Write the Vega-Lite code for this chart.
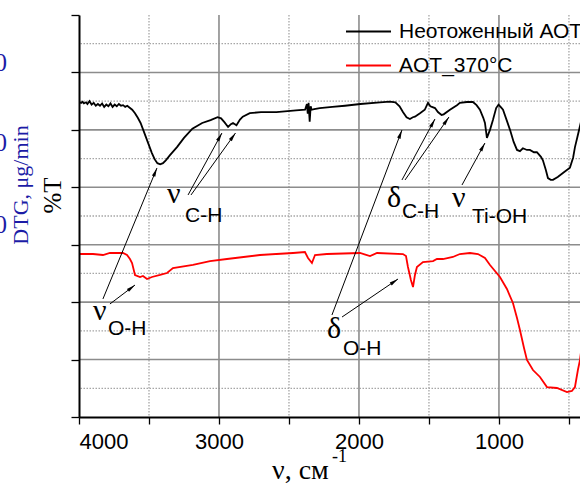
{
  "$schema": "https://vega.github.io/schema/vega-lite/v6.json",
  "width": 501,
  "height": 402,
  "autosize": {"type": "none"},
  "padding": {"left": 79, "top": 15, "right": 0, "bottom": 66},
  "background": "white",
  "config": {"view": {"stroke": null}, "font": "Liberation Sans"},
  "datasets": {
    "xmajor": [{"wn": 3000}, {"wn": 2000}, {"wn": 1000}],
    "xminor": [{"wn": 3500}, {"wn": 2500}, {"wn": 1500}, {"wn": 500}],
    "ymajor": [{"T": 10}, {"T": 20}, {"T": 30}, {"T": 40}, {"T": 50}, {"T": 60}],
    "yminor": [{"T": 5}, {"T": 15}, {"T": 25}, {"T": 35}, {"T": 45}, {"T": 55}, {"T": 65}],
    "spectra": [
      {"series": "Неотоженный АОТ", "wn": 4000, "T": 54.85},
      {"series": "Неотоженный АОТ", "wn": 3985, "T": 54.7},
      {"series": "Неотоженный АОТ", "wn": 3975, "T": 54.9},
      {"series": "Неотоженный АОТ", "wn": 3965, "T": 54.6},
      {"series": "Неотоженный АОТ", "wn": 3950, "T": 54.8},
      {"series": "Неотоженный АОТ", "wn": 3940, "T": 54.5},
      {"series": "Неотоженный АОТ", "wn": 3925, "T": 55.0},
      {"series": "Неотоженный АОТ", "wn": 3910, "T": 54.4},
      {"series": "Неотоженный АОТ", "wn": 3895, "T": 54.7},
      {"series": "Неотоженный АОТ", "wn": 3880, "T": 54.2},
      {"series": "Неотоженный АОТ", "wn": 3865, "T": 54.5},
      {"series": "Неотоженный АОТ", "wn": 3850, "T": 54.2},
      {"series": "Неотоженный АОТ", "wn": 3835, "T": 54.6},
      {"series": "Неотоженный АОТ", "wn": 3820, "T": 54.0},
      {"series": "Неотоженный АОТ", "wn": 3805, "T": 54.4},
      {"series": "Неотоженный АОТ", "wn": 3790, "T": 54.1},
      {"series": "Неотоженный АОТ", "wn": 3775, "T": 54.6},
      {"series": "Неотоженный АОТ", "wn": 3760, "T": 54.0},
      {"series": "Неотоженный АОТ", "wn": 3745, "T": 54.4},
      {"series": "Неотоженный АОТ", "wn": 3730, "T": 54.1},
      {"series": "Неотоженный АОТ", "wn": 3715, "T": 54.5},
      {"series": "Неотоженный АОТ", "wn": 3700, "T": 54.2},
      {"series": "Неотоженный АОТ", "wn": 3685, "T": 54.3},
      {"series": "Неотоженный АОТ", "wn": 3670, "T": 54.0},
      {"series": "Неотоженный АОТ", "wn": 3655, "T": 54.2},
      {"series": "Неотоженный АОТ", "wn": 3640, "T": 53.9},
      {"series": "Неотоженный АОТ", "wn": 3620, "T": 53.5},
      {"series": "Неотоженный АОТ", "wn": 3600, "T": 52.9},
      {"series": "Неотоженный АОТ", "wn": 3580, "T": 52.1},
      {"series": "Неотоженный АОТ", "wn": 3560, "T": 51.2},
      {"series": "Неотоженный АОТ", "wn": 3540, "T": 49.9},
      {"series": "Неотоженный АОТ", "wn": 3520, "T": 48.6},
      {"series": "Неотоженный АОТ", "wn": 3500, "T": 47.3},
      {"series": "Неотоженный АОТ", "wn": 3480, "T": 46.0},
      {"series": "Неотоженный АОТ", "wn": 3460, "T": 44.9},
      {"series": "Неотоженный АОТ", "wn": 3440, "T": 44.2},
      {"series": "Неотоженный АОТ", "wn": 3420, "T": 44.0},
      {"series": "Неотоженный АОТ", "wn": 3400, "T": 44.2},
      {"series": "Неотоженный АОТ", "wn": 3380, "T": 44.7},
      {"series": "Неотоженный АОТ", "wn": 3350, "T": 45.6},
      {"series": "Неотоженный АОТ", "wn": 3300, "T": 47.0},
      {"series": "Неотоженный АОТ", "wn": 3250, "T": 48.6},
      {"series": "Неотоженный АОТ", "wn": 3190, "T": 50.2},
      {"series": "Неотоженный АОТ", "wn": 3120, "T": 51.2},
      {"series": "Неотоженный АОТ", "wn": 3060, "T": 51.7},
      {"series": "Неотоженный АОТ", "wn": 3010, "T": 52.2},
      {"series": "Неотоженный АОТ", "wn": 2985, "T": 52.0},
      {"series": "Неотоженный АОТ", "wn": 2960, "T": 51.3},
      {"series": "Неотоженный АОТ", "wn": 2935, "T": 50.5},
      {"series": "Неотоженный АОТ", "wn": 2915, "T": 51.0},
      {"series": "Неотоженный АОТ", "wn": 2900, "T": 51.2},
      {"series": "Неотоженный АОТ", "wn": 2875, "T": 50.8},
      {"series": "Неотоженный АОТ", "wn": 2850, "T": 51.8},
      {"series": "Неотоженный АОТ", "wn": 2830, "T": 52.3},
      {"series": "Неотоженный АОТ", "wn": 2780, "T": 52.9},
      {"series": "Неотоженный АОТ", "wn": 2700, "T": 53.1},
      {"series": "Неотоженный АОТ", "wn": 2590, "T": 53.1},
      {"series": "Неотоженный АОТ", "wn": 2450, "T": 53.4},
      {"series": "Неотоженный АОТ", "wn": 2385, "T": 53.5},
      {"series": "Неотоженный АОТ", "wn": 2372, "T": 54.5},
      {"series": "Неотоженный АОТ", "wn": 2366, "T": 52.8},
      {"series": "Неотоженный АОТ", "wn": 2360, "T": 54.7},
      {"series": "Неотоженный АОТ", "wn": 2352, "T": 51.4},
      {"series": "Неотоженный АОТ", "wn": 2345, "T": 54.1},
      {"series": "Неотоженный АОТ", "wn": 2338, "T": 53.5},
      {"series": "Неотоженный АОТ", "wn": 2320, "T": 53.6},
      {"series": "Неотоженный АОТ", "wn": 2280, "T": 53.8},
      {"series": "Неотоженный АОТ", "wn": 2190, "T": 54.0},
      {"series": "Неотоженный АОТ", "wn": 2100, "T": 54.2},
      {"series": "Неотоженный АОТ", "wn": 1990, "T": 54.5},
      {"series": "Неотоженный АОТ", "wn": 1850, "T": 54.8},
      {"series": "Неотоженный АОТ", "wn": 1780, "T": 54.9},
      {"series": "Неотоженный АОТ", "wn": 1740, "T": 54.8},
      {"series": "Неотоженный АОТ", "wn": 1710, "T": 54.1},
      {"series": "Неотоженный АОТ", "wn": 1686, "T": 53.1},
      {"series": "Неотоженный АОТ", "wn": 1660, "T": 52.2},
      {"series": "Неотоженный АОТ", "wn": 1636, "T": 51.9},
      {"series": "Неотоженный АОТ", "wn": 1615, "T": 52.2},
      {"series": "Неотоженный АОТ", "wn": 1600, "T": 52.3},
      {"series": "Неотоженный АОТ", "wn": 1564, "T": 52.9},
      {"series": "Неотоженный АОТ", "wn": 1530, "T": 53.5},
      {"series": "Неотоженный АОТ", "wn": 1507, "T": 54.7},
      {"series": "Неотоженный АОТ", "wn": 1490, "T": 54.1},
      {"series": "Неотоженный АОТ", "wn": 1479, "T": 54.0},
      {"series": "Неотоженный АОТ", "wn": 1457, "T": 53.8},
      {"series": "Неотоженный АОТ", "wn": 1436, "T": 53.1},
      {"series": "Неотоженный АОТ", "wn": 1410, "T": 52.6},
      {"series": "Неотоженный АОТ", "wn": 1395, "T": 52.7},
      {"series": "Неотоженный АОТ", "wn": 1350, "T": 53.5},
      {"series": "Неотоженный АОТ", "wn": 1300, "T": 54.3},
      {"series": "Неотоженный АОТ", "wn": 1279, "T": 54.7},
      {"series": "Неотоженный АОТ", "wn": 1229, "T": 54.85},
      {"series": "Неотоженный АОТ", "wn": 1186, "T": 54.85},
      {"series": "Неотоженный АОТ", "wn": 1160, "T": 54.3},
      {"series": "Неотоженный АОТ", "wn": 1136, "T": 53.5},
      {"series": "Неотоженный АОТ", "wn": 1112, "T": 52.1},
      {"series": "Неотоженный АОТ", "wn": 1100, "T": 51.2},
      {"series": "Неотоженный АОТ", "wn": 1086, "T": 48.6},
      {"series": "Неотоженный АОТ", "wn": 1075, "T": 49.3},
      {"series": "Неотоженный АОТ", "wn": 1064, "T": 50.0},
      {"series": "Неотоженный АОТ", "wn": 1043, "T": 51.7},
      {"series": "Неотоженный АОТ", "wn": 1020, "T": 53.8},
      {"series": "Неотоженный АОТ", "wn": 1003, "T": 54.4},
      {"series": "Неотоженный АОТ", "wn": 985, "T": 53.9},
      {"series": "Неотоженный АОТ", "wn": 971, "T": 53.5},
      {"series": "Неотоженный АОТ", "wn": 945, "T": 51.7},
      {"series": "Неотоженный АОТ", "wn": 921, "T": 50.0},
      {"series": "Неотоженный АОТ", "wn": 895, "T": 47.9},
      {"series": "Неотоженный АОТ", "wn": 871, "T": 46.5},
      {"series": "Неотоженный АОТ", "wn": 850, "T": 46.3},
      {"series": "Неотоженный АОТ", "wn": 829, "T": 46.8},
      {"series": "Неотоженный АОТ", "wn": 800, "T": 46.5},
      {"series": "Неотоженный АОТ", "wn": 779, "T": 46.5},
      {"series": "Неотоженный АОТ", "wn": 750, "T": 46.1},
      {"series": "Неотоженный АОТ", "wn": 729, "T": 46.1},
      {"series": "Неотоженный АОТ", "wn": 700, "T": 45.3},
      {"series": "Неотоженный АОТ", "wn": 686, "T": 44.7},
      {"series": "Неотоженный АОТ", "wn": 665, "T": 43.0},
      {"series": "Неотоженный АОТ", "wn": 650, "T": 41.6},
      {"series": "Неотоженный АОТ", "wn": 630, "T": 41.3},
      {"series": "Неотоженный АОТ", "wn": 614, "T": 41.3},
      {"series": "Неотоженный АОТ", "wn": 580, "T": 41.8},
      {"series": "Неотоженный АОТ", "wn": 543, "T": 42.5},
      {"series": "Неотоженный АОТ", "wn": 493, "T": 43.4},
      {"series": "Неотоженный АОТ", "wn": 470, "T": 45.2},
      {"series": "Неотоженный АОТ", "wn": 457, "T": 47.0},
      {"series": "Неотоженный АОТ", "wn": 440, "T": 48.7},
      {"series": "Неотоженный АОТ", "wn": 414, "T": 51.4},
      {"series": "AOT_370°C", "wn": 4000, "T": 28.38},
      {"series": "AOT_370°C", "wn": 3900, "T": 28.38},
      {"series": "AOT_370°C", "wn": 3829, "T": 28.21},
      {"series": "AOT_370°C", "wn": 3779, "T": 28.56},
      {"series": "AOT_370°C", "wn": 3686, "T": 28.56},
      {"series": "AOT_370°C", "wn": 3657, "T": 28.21},
      {"series": "AOT_370°C", "wn": 3636, "T": 27.51},
      {"series": "AOT_370°C", "wn": 3621, "T": 26.82},
      {"series": "AOT_370°C", "wn": 3600, "T": 24.73},
      {"series": "AOT_370°C", "wn": 3564, "T": 24.38},
      {"series": "AOT_370°C", "wn": 3543, "T": 24.55},
      {"series": "AOT_370°C", "wn": 3514, "T": 24.03},
      {"series": "AOT_370°C", "wn": 3479, "T": 24.38},
      {"series": "AOT_370°C", "wn": 3421, "T": 24.73},
      {"series": "AOT_370°C", "wn": 3371, "T": 25.07},
      {"series": "AOT_370°C", "wn": 3329, "T": 25.94},
      {"series": "AOT_370°C", "wn": 3186, "T": 26.47},
      {"series": "AOT_370°C", "wn": 3064, "T": 27.16},
      {"series": "AOT_370°C", "wn": 2943, "T": 27.51},
      {"series": "AOT_370°C", "wn": 2707, "T": 28.21},
      {"series": "AOT_370°C", "wn": 2471, "T": 28.56},
      {"series": "AOT_370°C", "wn": 2386, "T": 28.73},
      {"series": "AOT_370°C", "wn": 2364, "T": 27.69},
      {"series": "AOT_370°C", "wn": 2336, "T": 26.82},
      {"series": "AOT_370°C", "wn": 2314, "T": 28.21},
      {"series": "AOT_370°C", "wn": 2229, "T": 28.38},
      {"series": "AOT_370°C", "wn": 1993, "T": 28.56},
      {"series": "AOT_370°C", "wn": 1921, "T": 28.03},
      {"series": "AOT_370°C", "wn": 1871, "T": 28.56},
      {"series": "AOT_370°C", "wn": 1686, "T": 28.38},
      {"series": "AOT_370°C", "wn": 1664, "T": 28.03},
      {"series": "AOT_370°C", "wn": 1650, "T": 26.12},
      {"series": "AOT_370°C", "wn": 1629, "T": 23.86},
      {"series": "AOT_370°C", "wn": 1614, "T": 22.64},
      {"series": "AOT_370°C", "wn": 1600, "T": 24.73},
      {"series": "AOT_370°C", "wn": 1586, "T": 26.12},
      {"series": "AOT_370°C", "wn": 1543, "T": 26.99},
      {"series": "AOT_370°C", "wn": 1471, "T": 27.16},
      {"series": "AOT_370°C", "wn": 1443, "T": 27.51},
      {"series": "AOT_370°C", "wn": 1400, "T": 27.51},
      {"series": "AOT_370°C", "wn": 1329, "T": 27.86},
      {"series": "AOT_370°C", "wn": 1279, "T": 28.38},
      {"series": "AOT_370°C", "wn": 1207, "T": 28.56},
      {"series": "AOT_370°C", "wn": 1150, "T": 28.38},
      {"series": "AOT_370°C", "wn": 1100, "T": 27.69},
      {"series": "AOT_370°C", "wn": 1064, "T": 26.47},
      {"series": "AOT_370°C", "wn": 993, "T": 24.38},
      {"series": "AOT_370°C", "wn": 943, "T": 22.29},
      {"series": "AOT_370°C", "wn": 900, "T": 19.85},
      {"series": "AOT_370°C", "wn": 871, "T": 17.24},
      {"series": "AOT_370°C", "wn": 850, "T": 15.15},
      {"series": "AOT_370°C", "wn": 821, "T": 12.01},
      {"series": "AOT_370°C", "wn": 800, "T": 9.93},
      {"series": "AOT_370°C", "wn": 757, "T": 8.18},
      {"series": "AOT_370°C", "wn": 707, "T": 6.97},
      {"series": "AOT_370°C", "wn": 657, "T": 5.22},
      {"series": "AOT_370°C", "wn": 586, "T": 5.05},
      {"series": "AOT_370°C", "wn": 514, "T": 4.35},
      {"series": "AOT_370°C", "wn": 479, "T": 4.53},
      {"series": "AOT_370°C", "wn": 457, "T": 5.22},
      {"series": "AOT_370°C", "wn": 436, "T": 8.18},
      {"series": "AOT_370°C", "wn": 421, "T": 9.93},
      {"series": "AOT_370°C", "wn": 414, "T": 11.3}
    ],
    "arrows": [
      {"wn": 3221, "T": 38.66, "wn2": 2979, "T2": 49.45},
      {"wn": 3200, "T": 38.66, "wn2": 2882, "T2": 49.45},
      {"wn": 3829, "T": 20.55, "wn2": 3443, "T2": 43.36},
      {"wn": 3779, "T": 19.68, "wn2": 3600, "T2": 22.98},
      {"wn": 1693, "T": 41.27, "wn2": 1457, "T2": 51.89},
      {"wn": 1671, "T": 41.27, "wn2": 1357, "T2": 52.24},
      {"wn": 2193, "T": 17.76, "wn2": 1693, "T2": 49.97},
      {"wn": 2121, "T": 17.41, "wn2": 1721, "T2": 24.03},
      {"wn": 1264, "T": 40.40, "wn2": 1100, "T2": 47.71}
    ],
    "greek": [
      {"label": "ν", "wn": 3371, "T": 37.26},
      {"label": "δ", "wn": 1800, "T": 36.57},
      {"label": "ν", "wn": 1336, "T": 36.57},
      {"label": "ν", "wn": 3900, "T": 16.89},
      {"label": "δ", "wn": 2229, "T": 13.76}
    ],
    "subs": [
      {"label": "C-H", "wn": 3243, "T": 33.95},
      {"label": "C-H", "wn": 1693, "T": 34.65},
      {"label": "Ti-OH", "wn": 1193, "T": 33.78},
      {"label": "O-H", "wn": 3793, "T": 14.28},
      {"label": "O-H", "wn": 2114, "T": 10.80}
    ],
    "xtitle": [{"label": "ν, см", "wn": 2621, "T": -10.8}],
    "xtitlesup": [{"label": "-1", "wn": 2193, "T": -7.84}],
    "dtgtitle": [{"label": "DTG, μg/min", "wn": 4414, "T": 40.4}],
    "dtglabels": [
      {"label": "0", "wn": 4514, "T": 61.64},
      {"label": "0", "wn": 4514, "T": 47.71},
      {"label": "0", "wn": 4514, "T": 33.43}
    ]
  },
  "layer": [
    {
      "data": {"name": "xminor"},
      "mark": {"type": "rule", "color": "#a6a6a6", "strokeWidth": 1.3, "strokeDash": [1.5, 1.5]},
      "encoding": {"x": {"field": "wn", "type": "quantitative", "scale": {"domain": [4000, 421], "nice": false, "zero": false}}}
    },
    {
      "data": {"name": "yminor"},
      "mark": {"type": "rule", "color": "#a6a6a6", "strokeWidth": 1.3, "strokeDash": [1.5, 1.5]},
      "encoding": {"y": {"field": "T", "type": "quantitative", "scale": {"domain": [0, 70], "nice": false, "zero": false}}}
    },
    {
      "data": {"name": "xmajor"},
      "mark": {"type": "rule", "color": "#8c8c8c", "strokeWidth": 1.6},
      "encoding": {"x": {"field": "wn", "type": "quantitative", "scale": {"domain": [4000, 421], "nice": false, "zero": false}}}
    },
    {
      "data": {"name": "ymajor"},
      "mark": {"type": "rule", "color": "#8c8c8c", "strokeWidth": 1.6},
      "encoding": {"y": {"field": "T", "type": "quantitative", "scale": {"domain": [0, 70], "nice": false, "zero": false}}}
    },
    {
      "data": {"name": "spectra"},
      "mark": {"type": "line", "clip": true, "strokeWidth": 1.8},
      "encoding": {
        "x": {
          "field": "wn", "type": "quantitative",
          "scale": {"domain": [4000, 421], "nice": false, "zero": false},
          "axis": {
            "title": null, "zindex": 1,
            "values": [4000, 3500, 3000, 2500, 2000, 1500, 1000, 500],
            "labelExpr": "datum.value % 1000 === 0 ? format(datum.value, 'd') : ''",
            "labelFont": "Liberation Sans", "labelFontSize": 22, "labelColor": "black",
            "labelBaseline": "alphabetic", "labelPadding": 24,
            "tickSize": 7, "tickColor": "black", "tickWidth": 1.3,
            "domainColor": "black", "domainWidth": 2,
            "grid": false
          }
        },
        "y": {
          "field": "T", "type": "quantitative",
          "scale": {"domain": [0, 70], "nice": false, "zero": false},
          "axis": {
            "title": "%T", "zindex": 1,
            "titleFont": "Liberation Serif", "titleFontSize": 25, "titleFontWeight": "normal", "titleColor": "black",
            "titleX": -27, "titleY": 180, "titleAngle": -90, "titleAlign": "center", "titleBaseline": "middle",
            "values": [0, 5, 10, 15, 20, 25, 30, 35, 40, 45, 50, 55, 60, 65, 70],
            "labels": false,
            "tickSize": 8, "tickColor": "black", "tickWidth": 1.3,
            "domainColor": "black", "domainWidth": 2,
            "grid": false
          }
        },
        "color": {
          "field": "series", "type": "nominal",
          "scale": {"domain": ["Неотоженный АОТ", "AOT_370°C"], "range": ["#000000", "#ff0000"]},
          "legend": {
            "title": null, "orient": "none", "legendX": 266, "legendY": -7,
            "symbolType": "stroke", "symbolSize": 2025, "symbolStrokeWidth": 2,
            "labelFont": "Liberation Sans", "labelFontSize": 21, "labelColor": "black",
            "labelOffset": 7, "labelLimit": 400, "rowPadding": -21, "padding": 0
          }
        }
      }
    },
    {
      "mark": {"type": "rule", "color": "black", "strokeWidth": 1.5},
      "encoding": {"y": {"datum": 70, "type": "quantitative", "scale": {"domain": [0, 70], "nice": false, "zero": false}}}
    },
    {
      "data": {"name": "arrows"},
      "mark": {"type": "rule", "color": "black", "strokeWidth": 1},
      "encoding": {
        "x": {"field": "wn", "type": "quantitative", "scale": {"domain": [4000, 421], "nice": false, "zero": false}},
        "y": {"field": "T", "type": "quantitative", "scale": {"domain": [0, 70], "nice": false, "zero": false}},
        "x2": {"field": "wn2"},
        "y2": {"field": "T2"}
      }
    },
    {
      "data": {"name": "arrows"},
      "transform": [
        {"calculate": "atan2((datum.wn2 - datum.wn) * -0.14, (datum.T2 - datum.T) * 5.743) * 180 / PI", "as": "ang"}
      ],
      "mark": {"type": "point", "shape": "M0,0L0.45,2.2L-0.45,2.2Z", "size": 64, "filled": true, "color": "black", "opacity": 1},
      "encoding": {
        "x": {"field": "wn2", "type": "quantitative", "scale": {"domain": [4000, 421], "nice": false, "zero": false}},
        "y": {"field": "T2", "type": "quantitative", "scale": {"domain": [0, 70], "nice": false, "zero": false}},
        "angle": {"field": "ang", "type": "quantitative", "scale": null}
      }
    },
    {
      "data": {"name": "greek"},
      "mark": {"type": "text", "font": "Liberation Serif", "fontSize": 30, "align": "left", "baseline": "alphabetic", "color": "black"},
      "encoding": {
        "x": {"field": "wn", "type": "quantitative", "scale": {"domain": [4000, 421], "nice": false, "zero": false}},
        "y": {"field": "T", "type": "quantitative", "scale": {"domain": [0, 70], "nice": false, "zero": false}},
        "text": {"field": "label"}
      }
    },
    {
      "data": {"name": "subs"},
      "mark": {"type": "text", "font": "Liberation Sans", "fontSize": 21, "align": "left", "baseline": "alphabetic", "color": "black"},
      "encoding": {
        "x": {"field": "wn", "type": "quantitative", "scale": {"domain": [4000, 421], "nice": false, "zero": false}},
        "y": {"field": "T", "type": "quantitative", "scale": {"domain": [0, 70], "nice": false, "zero": false}},
        "text": {"field": "label"}
      }
    },
    {
      "data": {"name": "xtitle"},
      "mark": {"type": "text", "font": "Liberation Serif", "fontSize": 28, "align": "left", "baseline": "alphabetic", "color": "black"},
      "encoding": {
        "x": {"field": "wn", "type": "quantitative", "scale": {"domain": [4000, 421], "nice": false, "zero": false}},
        "y": {"field": "T", "type": "quantitative", "scale": {"domain": [0, 70], "nice": false, "zero": false}},
        "text": {"field": "label"}
      }
    },
    {
      "data": {"name": "xtitlesup"},
      "mark": {"type": "text", "font": "Liberation Serif", "fontSize": 18, "align": "left", "baseline": "alphabetic", "color": "black"},
      "encoding": {
        "x": {"field": "wn", "type": "quantitative", "scale": {"domain": [4000, 421], "nice": false, "zero": false}},
        "y": {"field": "T", "type": "quantitative", "scale": {"domain": [0, 70], "nice": false, "zero": false}},
        "text": {"field": "label"}
      }
    },
    {
      "data": {"name": "dtgtitle"},
      "mark": {"type": "text", "font": "Liberation Serif", "fontSize": 22, "align": "center", "baseline": "middle", "angle": 270, "color": "#1c1ca6"},
      "encoding": {
        "x": {"field": "wn", "type": "quantitative", "scale": {"domain": [4000, 421], "nice": false, "zero": false}},
        "y": {"field": "T", "type": "quantitative", "scale": {"domain": [0, 70], "nice": false, "zero": false}},
        "text": {"field": "label"}
      }
    },
    {
      "data": {"name": "dtglabels"},
      "mark": {"type": "text", "font": "Liberation Serif", "fontSize": 25, "align": "right", "baseline": "middle", "color": "#1c1ca6"},
      "encoding": {
        "x": {"field": "wn", "type": "quantitative", "scale": {"domain": [4000, 421], "nice": false, "zero": false}},
        "y": {"field": "T", "type": "quantitative", "scale": {"domain": [0, 70], "nice": false, "zero": false}},
        "text": {"field": "label"}
      }
    }
  ]
}
